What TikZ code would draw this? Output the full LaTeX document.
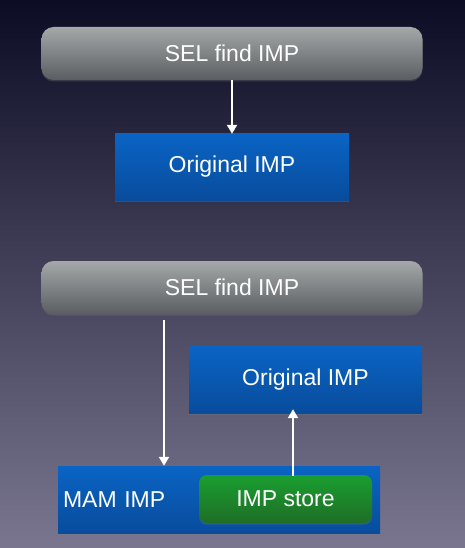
\documentclass[tikz,border=0pt]{standalone}
\usepackage{fontspec}
\setmainfont{Liberation Sans}
\usetikzlibrary{arrows.meta,shadows}
\definecolor{bgtop}{HTML}{0C0C24}
\definecolor{bgmid}{HTML}{4A4668}
\definecolor{bgbot}{HTML}{7A7690}
\definecolor{grtop}{HTML}{A4A8A8}
\definecolor{grbot}{HTML}{5A5E62}
\definecolor{bltop}{HTML}{0A64C4}
\definecolor{blbot}{HTML}{084C9C}
\definecolor{gntop}{HTML}{1A9E30}
\definecolor{gnbot}{HTML}{1F6E26}
\tikzset{
    selbox/.style={rounded corners=12pt, top color=grtop, bottom color=grbot,
        minimum width=381pt, minimum height=53pt, inner sep=0pt,
        drop shadow={shadow xshift=0pt, shadow yshift=-1.5pt, opacity=.3}},
    impbox/.style={top color=bltop, bottom color=blbot, inner sep=0pt,
        drop shadow={shadow xshift=0pt, shadow yshift=-1.5pt, opacity=.3}},
    storebox/.style={rounded corners=8pt, top color=gntop, bottom color=gnbot,
        minimum width=173pt, minimum height=48pt, inner sep=0pt,
        drop shadow={shadow xshift=0pt, shadow yshift=-1.5pt, opacity=.3}},
    arr/.style={draw=white, line width=2pt, -{Triangle[width=10pt,length=9pt]}},
    every node/.style={text=white, font=\fontsize{23}{27}\selectfont}
}
\begin{document}
\begin{tikzpicture}[x=1pt,y=-1pt]
    % background
    \shade[top color=bgtop, middle color=bgmid, bottom color=bgbot] (0,0) rectangle (465,548);
    \useasboundingbox (0,0) rectangle (465,548);
    % plain lookup
    \node[selbox] (sel1) at (232,53.5) {SEL find IMP};
    \node[impbox, minimum width=234pt, minimum height=66pt] (orig1) at (232,167) {Original IMP};
    \draw[arr] (sel1.south) -- (orig1.north);
    % with MAM
    \node[selbox] (sel2) at (232,287.5) {SEL find IMP};
    \node[impbox, minimum width=233pt, minimum height=67pt] (orig2) at (305.5,379.5) {Original IMP};
    \node[impbox, minimum width=322pt, minimum height=67pt, text width=312pt, align=left] (mam) at (219,499.5) {MAM IMP};
    \node[storebox] (store) at (285.5,499) {IMP store};
    \draw[arr] ([xshift=-68pt,yshift=-6pt]sel2.south) -- ([xshift=-68pt]sel2.south |- mam.north);
    \draw[arr] ([xshift=7.5pt,yshift=-1pt]store.north) -- ([xshift=7.5pt,yshift=4pt]store.north |- orig2.south);
\end{tikzpicture}
\end{document}
